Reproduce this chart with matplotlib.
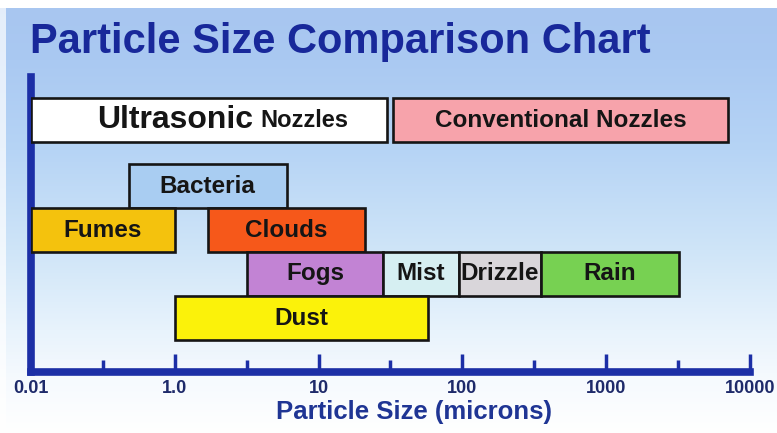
import numpy as np
import matplotlib
matplotlib.use("Agg")
import matplotlib.pyplot as plt
from matplotlib.ticker import NullFormatter

plt.rcParams['font.family'] = ['Liberation Sans', 'DejaVu Sans']

# particle ranges in microns
names = ["Ultrasonic Nozzles", "Conventional Nozzles", "Bacteria", "Fumes", "Clouds",
         "Fogs", "Mist", "Drizzle", "Rain", "Dust"]
lows = [0.01, 33, 0.23, 0.01, 1.7, 3.2, 28, 95, 350, 1.0]
highs = [30, 7000, 6.0, 1.0, 21, 28, 95, 350, 3200, 58]
rows = [4.4, 4.4, 2.93, 1.95, 1.95, 0.98, 0.98, 0.98, 0.98, 0.0]
colors = ['#ffffff', '#f7a3ab', '#a9cdf2', '#f4c20d', '#f6581a',
          '#c283d4', '#d6eff2', '#d9d6da', '#77d152', '#fbf20a']

tick_vals = [0.01, 1, 10, 100, 1000, 10000]
tick_labels = ["0.01", "1.0", "10", "100", "1000", "10000"]
minor_vals = [0.1, 3.16, 31.6, 316, 3160]


# axis squeezes the part below 1 micron to half a decade per decade
def fwd(x):
    x = np.clip(np.asarray(x, dtype=float), 1e-12, None)
    lx = np.log10(x)
    return np.where(lx < 0, lx / 2, lx)


def inv(y):
    y = np.asarray(y, dtype=float)
    return np.where(y < 0, 10 ** (2 * y), 10 ** y)


fig = plt.figure(figsize=(7.77, 4.33), dpi=100)

# background gradient
H, W = 433, 777
ys = np.arange(H)
stops_y = [0, 7, 8, 60, 150, 250, 330, 380, 433]
stops_c = np.array([[255, 255, 255], [255, 255, 255], [168, 198, 240], [170, 201, 242],
                    [182, 212, 245], [207, 229, 248], [232, 243, 252], [246, 250, 254],
                    [255, 255, 255]]) / 255.0
col = np.stack([np.interp(ys, stops_y, stops_c[:, k]) for k in range(3)], axis=1)
img = np.repeat(col[:, None, :], W, axis=1)
img[:, :6, :] = img[:, :6, :] * 0.3 + 0.7
bg = fig.add_axes([0, 0, 1, 1], zorder=-10)
bg.imshow(img, aspect='auto', extent=[0, 1, 0, 1])
bg.axis('off')

ax = fig.add_axes([31 / 777, 61 / 433, 719 / 777, 295 / 433])
ax.set_facecolor('none')
ax.set_xscale('function', functions=(fwd, inv))

widths = [h - l for l, h in zip(lows, highs)]
ax.barh(rows, widths, left=lows, height=0.98, color=colors,
        edgecolor='#151515', linewidth=1.9, zorder=3)

for i, name in enumerate(names):
    xc = inv((fwd(lows[i]) + fwd(highs[i])) / 2)
    if name == "Ultrasonic Nozzles":
        ax.annotate("Ultrasonic", (xc, rows[i]), xytext=(32, 0), textcoords='offset points',
                    ha='right', va='center', fontsize=23, fontweight='bold',
                    color='#151515', zorder=4)
        ax.annotate("Nozzles", (xc, rows[i]), xytext=(37, 0), textcoords='offset points',
                    ha='left', va='center', fontsize=17, fontweight='bold',
                    color='#151515', zorder=4)
    else:
        ax.text(xc, rows[i], name, ha='center', va='center', fontsize=17.5,
                fontweight='bold', color='#151515', zorder=4)

ax.set_xlim(0.01, 10000)
ax.set_ylim(-1.2, 5.356)
ax.set_yticks([])

ax.set_xticks(tick_vals, tick_labels, fontweight='bold')
ax.set_xticks(minor_vals, minor=True)
ax.xaxis.set_minor_formatter(NullFormatter())
ax.tick_params(axis='x', which='major', direction='in', length=13, width=2.5,
               color='#1c2fa6', pad=6, labelsize=13, labelcolor='#1e2a6a')
ax.tick_params(axis='x', which='minor', direction='in', length=8.5, width=2.5,
               color='#1c2fa6')

for s in ['top', 'right']:
    ax.spines[s].set_visible(False)
for s in ['left', 'bottom']:
    ax.spines[s].set_color('#1c2fa6')
    ax.spines[s].set_linewidth(5.5)
    ax.spines[s].set_capstyle('projecting')

fig.text(30 / 777, 1 - 53 / 433, "Particle Size Comparison Chart", ha='left',
         va='baseline', fontsize=30, fontweight='bold', color='#18289a')
fig.text(414 / 777, 1 - 412 / 433, "Particle Size (microns)", ha='center',
         va='center', fontsize=18.5, fontweight='bold', color='#1f3594')

fig.savefig("out.png", dpi=100)
